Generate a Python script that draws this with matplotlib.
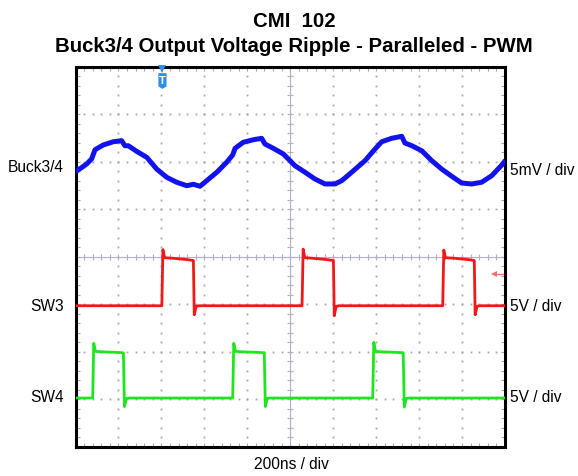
import numpy as np
import matplotlib
matplotlib.use("Agg")
import matplotlib.pyplot as plt

plt.rcParams['font.family'] = ['Liberation Sans', 'DejaVu Sans']

# Buck3/4 output ripple (mV), time in ns (200 ns / div, 10 div)
buck_t = [0, 8, 52, 75, 91, 129, 176, 215, 230, 246, 285, 332, 378, 425, 471, 518, 549,
          580, 611, 658, 704, 732, 743, 781, 828, 867, 882, 921, 968, 999, 1022, 1069,
          1115, 1162, 1208, 1240, 1286, 1348, 1395, 1426, 1472, 1519, 1534, 1566, 1612,
          1659, 1705, 1752, 1798, 1845, 1891, 1938, 1985, 1995]
buck_mv = [-1.0, -0.95, -0.25, 0.28, 1.25, 1.75, 2.09, 2.2, 1.67, 1.67, 1.08, 0.45, -0.78,
           -1.65, -2.17, -2.53, -2.38, -2.59, -2.0, -1.12, -0.07, 0.7, 1.4, 2.03, 2.3, 2.45,
           1.85, 1.4, 0.8, 0.1, -0.43, -1.12, -1.83, -2.35, -2.35, -2.0, -1.12, 0.1, 1.33,
           2.09, 2.45, 2.66, 1.96, 1.67, 1.15, 0.1, -0.78, -1.54, -2.25, -2.35, -2.17,
           -1.48, -0.36, -0.07]

# SW3 switch node (V)
sw3_t = [0, 402, 407, 415, 450, 520, 549, 553, 562, 575, 1055, 1060, 1068, 1100, 1170,
         1201, 1205, 1214, 1227, 1710, 1715, 1723, 1760, 1830, 1857, 1861, 1870, 1883, 2000]
sw3_v = [-0.15, -0.15, 5.75, 4.9, 4.85, 4.7, 4.6, -1.1, -0.2, -0.15, -0.15, 5.8, 4.9, 4.85,
         4.7, 4.6, -1.2, -0.2, -0.15, -0.15, 5.7, 4.9, 4.85, 4.7, 4.6, -1.1, -0.2, -0.15, -0.15]

# SW4 switch node (V)
sw4_t = [0, 80, 85, 93, 130, 190, 223, 228, 237, 250, 732, 737, 745, 780, 850, 879, 884,
         893, 906, 1384, 1389, 1397, 1430, 1495, 1526, 1531, 1540, 1553, 2000]
sw4_v = [0.15, 0.15, 5.9, 5.05, 5.0, 4.95, 4.9, -0.75, 0.1, 0.15, 0.15, 5.9, 5.05, 5.0,
         4.95, 4.9, -0.75, 0.1, 0.15, 0.15, 6.0, 5.05, 5.0, 4.95, 4.9, -0.8, 0.1, 0.15, 0.15]

# channel scale / offset (divisions)
buck_scale, buck_pos = 5.0, 2.0
sw_scale, sw3_pos, sw4_pos = 5.0, -1.0, -3.0
trig_t = 405
trig_level = -0.36

fig = plt.figure(figsize=(5.78, 4.77), dpi=100)
ax = fig.add_axes([75.5 / 578, 1 - 448 / 477, 429.5 / 578, 380.5 / 477])
ax.set_xlim(0, 2000)
ax.set_ylim(-4, 4)

# graticule
gcol = "#a4a4b4"
for k in range(1, 10):
    if k == 5:
        continue
    yy = np.arange(-4, 4.01, 0.2)
    ax.plot(np.full_like(yy, 200 * k), yy, ls="none", marker="s", ms=1.3, color=gcol, mew=0, zorder=1)
for j in range(-3, 4):
    if j == 0:
        continue
    xx = np.arange(0, 2001, 40)
    ax.plot(xx, np.full_like(xx, j, dtype=float), ls="none", marker="s", ms=1.3, color=gcol, mew=0, zorder=1)

ccol = "#b0b0c8"
ax.axhline(0, color=ccol, lw=0.8, zorder=1)
ax.axvline(1000, color=ccol, lw=0.8, zorder=1)
xx = np.arange(0, 2001, 40)
ax.plot(xx, np.zeros_like(xx), ls="none", marker="|", ms=5, mew=0.8, color=ccol, zorder=1)
yy = np.arange(-4, 4.01, 0.2)
ax.plot(np.full_like(yy, 1000), yy, ls="none", marker="_", ms=5, mew=0.8, color=ccol, zorder=1)

ax.set_xticks(np.arange(0, 2001, 200))
ax.set_xticks(np.arange(0, 2001, 40), minor=True)
ax.set_yticks(np.arange(-4, 4.01, 1))
ax.set_yticks(np.arange(-4, 4.01, 0.2), minor=True)
ax.tick_params(which="both", direction="in", length=3, width=0.8, color=gcol,
               top=True, right=True, labelbottom=False, labelleft=False)
for s in ax.spines.values():
    s.set_linewidth(2.2)
    s.set_color("black")

# traces
ax.plot(buck_t, buck_pos + np.array(buck_mv) / buck_scale, color="#1212ee", lw=3.6,
        solid_joinstyle="round", zorder=3)
ax.plot(sw3_t, sw3_pos + np.array(sw3_v) / sw_scale, color="#f01818", lw=2.0, zorder=3)
ax.plot(sw4_t, sw4_pos + np.array(sw4_v) / sw_scale, color="#1ee61e", lw=2.0, zorder=3)

# trigger marker (T flag) and trigger level arrow
tc = "#2f8fe6"
ax.plot(trig_t, 3.95, marker="v", ms=6, color=tc, mew=0, zorder=4, clip_on=False)
hw = 19
ax.fill([trig_t - hw, trig_t + hw, trig_t + hw, trig_t, trig_t - hw],
        [3.86, 3.86, 3.58, 3.53, 3.58], color=tc, lw=0, zorder=4)
ax.text(trig_t, 3.715, "T", ha="center", va="center", color="white", fontsize=8,
        fontweight="bold", zorder=5)
ax.plot([1950, 1990], [trig_level, trig_level], color="#f07070", lw=1, zorder=4)
ax.plot(1950, trig_level, marker="<", ms=5, color="#f07070", mew=0, zorder=4)

# text
fig.text(294 / 578, 1 - 27 / 477, "CMI  102", ha="center", va="baseline", fontsize=14.7, fontweight="bold")
fig.text(294 / 578, 1 - 52 / 477, "Buck3/4 Output Voltage Ripple - Paralleled - PWM",
         ha="center", va="baseline", fontsize=14.7, fontweight="bold")

lab = dict(fontsize=11.2, va="center")
fig.text(64 / 578, 1 - 167 / 477, "Buck3/4", ha="right", **lab)
fig.text(64 / 578, 1 - 306.5 / 477, "SW3", ha="right", **lab)
fig.text(64 / 578, 1 - 398 / 477, "SW4", ha="right", **lab)
fig.text(510 / 578, 1 - 171 / 477, "5mV / div", ha="left", **lab)
fig.text(510 / 578, 1 - 306.5 / 477, "5V / div", ha="left", **lab)
fig.text(510 / 578, 1 - 397.5 / 477, "5V / div", ha="left", **lab)
fig.text(291 / 578, 1 - 465 / 477, "200ns / div", ha="center", **lab)

fig.savefig("out.png", dpi=100)
